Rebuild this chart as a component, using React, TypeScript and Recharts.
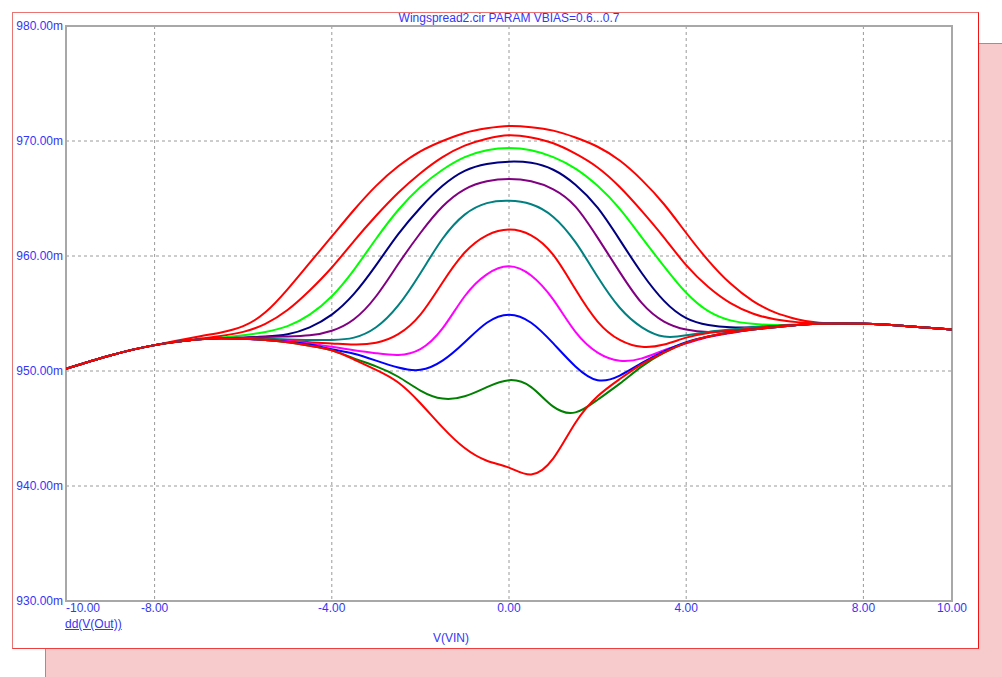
import { CartesianGrid, Line, LineChart, ReferenceArea, XAxis, YAxis } from 'recharts';

const vin = [-10, -9, -8, -7, -6.5, -6, -5.5, -5, -4.5, -4, -3.5, -3, -2.5, -2, -1.5, -1, -0.5, 0, 0.5, 1, 1.5, 2, 2.5, 3, 3.5, 4, 4.5, 5, 5.5, 6, 6.5, 7, 8, 9, 10];

const b700 = [950.2, 951.35, 952.25, 953.0, 953.35, 953.9, 955.1, 957.1, 959.4, 961.7, 964.0, 966.1, 967.8, 969.1, 970.0, 970.7, 971.1, 971.3, 971.2, 970.9, 970.3, 969.5, 968.3, 966.6, 964.5, 962.0, 959.6, 957.6, 956.1, 955.1, 954.5, 954.2, 954.1, 953.9, 953.6];
const b690 = [950.2, 951.35, 952.25, 952.8, 953.05, 953.4, 954.1, 955.3, 957.0, 959.0, 961.3, 963.5, 965.5, 967.2, 968.6, 969.6, 970.2, 970.5, 970.3, 969.8, 968.9, 967.7, 966.0, 963.9, 961.6, 959.2, 957.3, 955.9, 955.0, 954.5, 954.25, 954.15, 954.1, 953.9, 953.6];
const b680 = [950.2, 951.35, 952.25, 952.75, 952.9, 953.1, 953.4, 953.9, 954.9, 956.5, 958.8, 961.5, 964.0, 966.0, 967.5, 968.6, 969.2, 969.4, 969.2, 968.6, 967.6, 966.1, 964.1, 961.6, 959.1, 956.8, 955.2, 954.4, 954.1, 954.0, 954.05, 954.1, 954.1, 953.9, 953.6];
const b670 = [950.2, 951.35, 952.25, 952.75, 952.85, 952.9, 953.0, 953.2, 953.8, 954.9, 956.7, 959.2, 961.9, 964.2, 966.1, 967.4, 968.0, 968.2, 968.1, 967.5, 966.2, 964.2, 961.4, 958.5, 956.1, 954.6, 954.0, 953.8, 953.8, 953.9, 954.0, 954.1, 954.1, 953.9, 953.6];
const b660 = [950.2, 951.35, 952.25, 952.75, 952.85, 952.9, 952.95, 953.0, 953.1, 953.5, 954.5, 956.5, 959.3, 962.0, 964.3, 965.8, 966.5, 966.7, 966.5, 965.8, 964.3, 961.6, 958.6, 955.9, 954.3, 953.6, 953.4, 953.5, 953.7, 953.9, 954.0, 954.1, 954.1, 953.9, 953.6];
const b650 = [950.2, 951.35, 952.25, 952.75, 952.85, 952.85, 952.8, 952.75, 952.7, 952.7, 952.9, 953.8, 955.7, 958.5, 961.5, 963.6, 964.6, 964.8, 964.5, 963.4, 961.2, 958.2, 955.5, 953.8, 953.0, 953.1, 953.4, 953.6, 953.8, 953.9, 954.0, 954.1, 954.1, 953.9, 953.6];
const b640 = [950.2, 951.35, 952.25, 952.75, 952.85, 952.8, 952.75, 952.65, 952.5, 952.4, 952.3, 952.45, 953.2, 954.9, 957.7, 960.3, 961.8, 962.3, 961.8, 960.1, 957.1, 954.3, 952.7, 952.1, 952.3, 952.9, 953.3, 953.5, 953.7, 953.9, 954.0, 954.1, 954.1, 953.9, 953.6];
const b630 = [950.2, 951.35, 952.25, 952.75, 952.85, 952.8, 952.7, 952.6, 952.4, 952.1, 951.8, 951.55, 951.4, 951.9, 953.7, 956.5, 958.4, 959.1, 958.3, 956.2, 953.4, 951.6, 950.9, 951.1, 951.8, 952.4, 952.95, 953.3, 953.6, 953.8, 954.0, 954.1, 954.1, 953.9, 953.6];
const b620 = [950.2, 951.35, 952.25, 952.75, 952.85, 952.8, 952.7, 952.55, 952.3, 951.9, 951.5, 950.9, 950.3, 950.1, 950.9, 952.5, 954.2, 954.9, 954.2, 952.4, 950.4, 949.2, 949.6, 950.7, 951.7, 952.5, 953.0, 953.35, 953.6, 953.8, 954.0, 954.1, 954.1, 953.9, 953.6];
const b610 = [950.2, 951.35, 952.25, 952.75, 952.85, 952.8, 952.7, 952.5, 952.2, 951.8, 951.1, 950.4, 949.5, 948.3, 947.6, 947.8, 948.6, 949.2, 948.6, 946.9, 946.4, 947.5, 948.9, 950.4, 951.6, 952.45, 953.0, 953.35, 953.6, 953.8, 954.0, 954.1, 954.1, 953.9, 953.6];
const b600 = [950.2, 951.35, 952.25, 952.75, 952.85, 952.8, 952.7, 952.5, 952.2, 951.8, 951.0, 950.1, 949.0, 947.2, 945.1, 943.3, 942.2, 941.6, 941.0, 942.4, 945.5, 947.8, 949.3, 950.6, 951.6, 952.45, 953.0, 953.35, 953.6, 953.8, 954.0, 954.1, 954.1, 953.9, 953.6];

const curves = [
	{ key: 'b700', values: b700, color: '#FF0000' },
	{ key: 'b690', values: b690, color: '#FF0000' },
	{ key: 'b680', values: b680, color: '#00FF00' },
	{ key: 'b670', values: b670, color: '#000080' },
	{ key: 'b660', values: b660, color: '#800080' },
	{ key: 'b650', values: b650, color: '#008080' },
	{ key: 'b640', values: b640, color: '#FF0000' },
	{ key: 'b630', values: b630, color: '#FF00FF' },
	{ key: 'b620', values: b620, color: '#0000FF' },
	{ key: 'b610', values: b610, color: '#008000' },
	{ key: 'b600', values: b600, color: '#FF0000' },
];

const xTicks = [-10, -8, -4, 0, 4, 8, 10];
const yTicks = [930, 940, 950, 960, 970, 980];

const data = vin.map((x, i) => {
	const row: Record<string, number> = { x };
	curves.forEach((c) => {
		row[c.key] = c.values[i];
	});
	return row;
});

const blue = '#3535F5';
const font = 'Arial, "Liberation Sans", sans-serif';

function XTick(props: any) {
	const { x, y, payload } = props;
	const v = payload.value as number;
	return (
		<text x={x} y={y} dy="0.71em" textAnchor={v === -10 ? 'start' : 'middle'} fill={blue} fontSize={12} fontFamily={font}>
			{v.toFixed(2)}
		</text>
	);
}

export default function App() {
	return (
		<div style={{ position: 'absolute', left: 0, top: 0, width: 1002, height: 677, overflow: 'hidden', background: '#fff' }}>
			<div
				style={{
					position: 'absolute',
					left: 45,
					top: 43,
					width: 980,
					height: 660,
					background: '#F7CBCB',
					borderTop: '1px solid #E87070',
					borderLeft: '1px solid #E87070',
				}}
			/>
			<div
				style={{
					position: 'absolute',
					left: 12,
					top: 12,
					width: 965,
					height: 635,
					background: '#fff',
					borderTop: '1px solid #E87474',
					borderLeft: '1px solid #E87474',
					borderRight: '1px solid #F01414',
					borderBottom: '1px solid #EC4040',
				}}
			/>
			<div style={{ position: 'absolute', left: 0, top: 11, width: 1018, textAlign: 'center', color: blue, fontSize: 12, fontFamily: font }}>
				Wingspread2.cir PARAM VBIAS=0.6...0.7
			</div>
			<div style={{ position: 'absolute', left: 65, top: 617, color: blue, fontSize: 12, fontFamily: font, textDecoration: 'underline' }}>
				dd(V(Out))
			</div>
			<div style={{ position: 'absolute', left: 433, top: 631, color: blue, fontSize: 12, fontFamily: font }}>V(VIN)</div>
			<div style={{ position: 'absolute', left: 0, top: 0 }}>
				<LineChart width={1002} height={677} data={data} margin={{ top: 26, right: 50, bottom: 46, left: 10 }}>
					<CartesianGrid stroke="#9A9A9A" strokeDasharray="3 3" />
					<XAxis
						type="number"
						dataKey="x"
						domain={[-10, 10]}
						ticks={xTicks}
						allowDataOverflow
						axisLine={false}
						tickLine={false}
						tickSize={0}
						tickMargin={2}
						height={30}
						tick={<XTick />}
					/>
					<YAxis
						type="number"
						domain={[930, 980]}
						ticks={yTicks}
						allowDataOverflow
						axisLine={false}
						tickLine={false}
						tickSize={0}
						tickMargin={3}
						width={56}
						tick={{ fill: blue, fontSize: 12, fontFamily: font }}
						tickFormatter={(v: number) => `${v.toFixed(2)}m`}
					/>
					<ReferenceArea x1={-10} x2={10} y1={930} y2={980} fill="none" stroke="#A8A8A8" strokeWidth={2} />
					{curves.map((c) => (
						<Line
							key={c.key}
							type="natural"
							dataKey={c.key}
							stroke={c.color}
							strokeWidth={2}
							dot={false}
							activeDot={false}
							isAnimationActive={false}
						/>
					))}
				</LineChart>
			</div>
		</div>
	);
}
